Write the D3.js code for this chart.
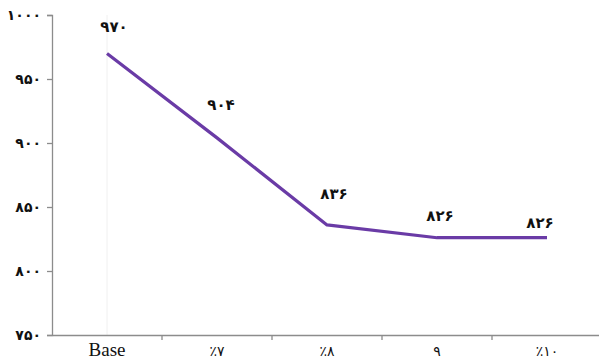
<!DOCTYPE html>
<html><head><meta charset="utf-8">
<script src="https://cdn.jsdelivr.net/npm/d3@7/dist/d3.min.js"></script>
<style>body{margin:0;background:#fff}svg{display:block}</style>
</head><body>
<svg id="c" width="599" height="363"></svg>
<script>
const categories = ["Base", "٪۷", "٪۸", "۹", "٪۱۰"];
const values = [970, 904, 836, 826, 826];
const valueLabels = ["۹۷۰", "۹۰۴", "۸۳۶", "۸۲۶", "۸۲۶"];
const yTicks = [750, 800, 850, 900, 950, 1000];
const yTickLabels = ["۷۵۰", "۸۰۰", "۸۵۰", "۹۰۰", "۹۵۰", "۱۰۰۰"];
const labelOffsets = [[7, -21], [4, -28], [7, -26], [3, -17], [-7, -10]];

const svg = d3.select("#c");
const m = {l: 52, r: -3, t: 15, b: 28};
const W = 599, H = 363;
const x = d3.scaleBand().domain(categories).range([m.l, W - m.r]);
const y = d3.scaleLinear().domain([750, 1000]).range([H - m.b, m.t]);

svg.append("line")
  .attr("x1", x("Base") + x.bandwidth()/2).attr("x2", x("Base") + x.bandwidth()/2)
  .attr("y1", y(1000)).attr("y2", y(750))
  .attr("stroke", "#f0f0f0").attr("stroke-width", 1);

const yAxis = svg.append("g").attr("transform", `translate(${m.l},0)`)
  .call(d3.axisLeft(y).tickValues(yTicks).tickSize(5).tickPadding(6)
    .tickFormat((d, i) => yTickLabels[i]));
yAxis.select(".domain").attr("stroke", "#8c8c8c").attr("stroke-width", 1.3);
yAxis.selectAll(".tick line").attr("stroke", "#8c8c8c").attr("stroke-width", 1.3);
yAxis.selectAll(".tick text").attr("font-family", "DejaVu Sans").attr("font-size", 14)
  .attr("font-weight", "bold").attr("fill", "#111").attr("direction", "ltr");

const xAxis = svg.append("g").attr("transform", `translate(0,${y(750)})`)
  .call(d3.axisBottom(x).tickSize(0).tickPadding(8));
xAxis.select(".domain").attr("stroke", "#8c8c8c").attr("stroke-width", 1.3);
xAxis.selectAll(".tick text").attr("fill", "#111").attr("direction", "ltr")
  .attr("font-family", d => d === "Base" ? "Liberation Serif" : "DejaVu Sans")
  .attr("font-size", d => d === "Base" ? 19 : 14)
  .attr("dy", d => d === "Base" ? "0.71em" : "0.95em");
xAxis.selectAll(".bt").data(categories.slice(1)).enter().append("line")
  .attr("x1", d => x(d)).attr("x2", d => x(d))
  .attr("y1", 0).attr("y2", 5)
  .attr("stroke", "#8c8c8c").attr("stroke-width", 1.3);

const line = d3.line()
  .x((d, i) => x(categories[i]) + x.bandwidth()/2)
  .y(d => y(d));
svg.append("path").datum(values).attr("d", line)
  .attr("fill", "none").attr("stroke", "#6A3BA6").attr("stroke-width", 3.2)
  .attr("stroke-linejoin", "round");

svg.selectAll(".vl").data(values).enter().append("text")
  .attr("x", (d, i) => x(categories[i]) + x.bandwidth()/2 + labelOffsets[i][0])
  .attr("y", (d, i) => y(d) + labelOffsets[i][1])
  .attr("text-anchor", "middle").attr("direction", "ltr")
  .attr("font-family", "DejaVu Sans").attr("font-size", 15).attr("font-weight", "bold")
  .attr("fill", "#111")
  .text((d, i) => valueLabels[i]);
</script>
</body></html>
